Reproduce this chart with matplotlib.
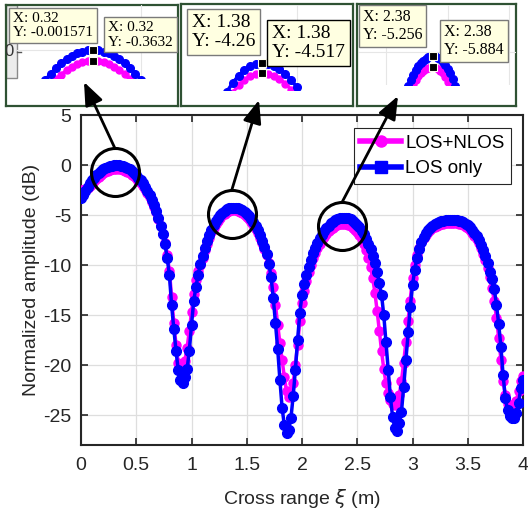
import numpy as np
import matplotlib
matplotlib.use('Agg')
import matplotlib.pyplot as plt
from matplotlib.lines import Line2D
from matplotlib.patches import FancyArrowPatch, Rectangle

X_STEP = 0.02
LABELS = ['LOS+NLOS', 'LOS only']

los_only = [
    -3.3, -3.01, -2.58, -2.19, -1.84, -1.53, -1.25, -1.00, -0.79, -0.60,
    -0.44, -0.30, -0.19, -0.11, -0.05, -0.01, -0.001571, -0.01, -0.05, -0.11,
    -0.19, -0.30, -0.44, -0.60, -0.79, -1.00, -1.25, -1.53, -1.84, -2.19,
    -2.58, -3.01, -3.49, -4.02, -4.61, -5.28, -6.05, -6.9, -7.9, -9.3,
    -11.0, -14.0, -16.4, -18.6, -20.5, -21.5, -21.8, -21.2, -20.4, -18.6,
    -16.0, -13.6, -12.2, -11.0, -9.94, -9.05, -8.26, -7.59, -6.98, -6.46,
    -6.01, -5.63, -5.29, -5.01, -4.78, -4.59, -4.44, -4.34, -4.28, -4.26,
    -4.28, -4.33, -4.42, -4.54, -4.70, -4.90, -5.13, -5.41, -5.73, -6.10,
    -6.52, -7.01, -7.55, -8.17, -8.9, -9.9, -11.2, -13.3, -15.8, -18.4,
    -21.5, -24.3, -26.0, -26.8, -26.5, -25.3, -23.1, -20.5, -17.5, -14.8,
    -13.0, -11.9, -11.0, -10.2, -9.45, -8.83, -8.27, -7.77, -7.34, -6.95,
    -6.62, -6.32, -6.06, -5.84, -5.66, -5.52, -5.40, -5.32, -5.27, -5.256,
    -5.28, -5.34, -5.43, -5.57, -5.76, -5.98, -6.24, -6.56, -6.94, -7.36,
    -7.85, -8.42, -9.05, -9.80, -10.7, -11.8, -13.0, -15.0, -17.7, -20.5,
    -23.2, -25.2, -26.3, -26.6, -25.8, -24.7, -22.2, -19.5, -16.7, -14.2,
    -12.0, -10.5, -9.3, -8.4, -7.7, -7.2, -6.8, -6.5, -6.25, -6.05,
    -5.9, -5.78, -5.68, -5.6, -5.55, -5.52, -5.5, -5.5, -5.5, -5.5,
    -5.52, -5.56, -5.63, -5.72, -5.85, -6.0, -6.2, -6.45, -6.75, -7.1,
    -7.5, -7.95, -8.5, -9.1, -9.8, -10.7, -11.4, -12.4, -14.0, -15.9,
    -18.2, -21.0, -23.3, -24.5, -25.1, -25.3, -25.3, -24.8, -23.8, -22.3,
    -21.5,
]

los_nlos = [
    -2.5, -2.45, -2.38, -2.25, -2.05, -1.85, -1.6, -1.38, -1.17, -0.98,
    -0.82, -0.68, -0.56, -0.47, -0.41, -0.37, -0.3632, -0.37, -0.41, -0.47,
    -0.55, -0.66, -0.80, -0.95, -1.13, -1.33, -1.56, -1.82, -2.11, -2.44,
    -2.81, -3.22, -3.68, -4.18, -4.74, -5.36, -6.05, -6.85, -7.8, -9.0,
    -10.6, -13.2, -15.8, -18.0, -19.8, -20.6, -20.4, -19.6, -18.3, -16.6,
    -14.7, -12.9, -11.5, -10.6, -9.95, -9.25, -8.5, -7.85, -7.25, -6.72,
    -6.27, -5.89, -5.55, -5.27, -5.04, -4.85, -4.70, -4.60, -4.54, -4.517,
    -4.54, -4.59, -4.68, -4.80, -4.96, -5.16, -5.40, -5.68, -6.00, -6.37,
    -6.78, -7.25, -7.78, -8.37, -9.03, -9.8, -10.8, -12.2, -14.0, -16.0,
    -17.8, -19.5, -21.2, -22.6, -23.2, -23.0, -21.8, -20.0, -18.0, -15.6,
    -13.8, -12.6, -11.6, -10.7, -9.95, -9.3, -8.75, -8.25, -7.85, -7.48,
    -7.16, -6.88, -6.63, -6.42, -6.25, -6.11, -6.0, -5.93, -5.895, -5.884,
    -5.91, -5.98, -6.09, -6.25, -6.47, -6.73, -7.04, -7.42, -7.9, -8.5,
    -9.3, -10.2, -11.3, -12.8, -14.6, -16.6, -18.6, -20.4, -21.8, -22.8,
    -23.5, -23.9, -24.0, -23.8, -23.0, -21.6, -19.8, -17.7, -15.6, -13.6,
    -11.3, -10.0, -9.0, -8.25, -7.7, -7.3, -6.98, -6.72, -6.5, -6.32,
    -6.18, -6.06, -5.97, -5.9, -5.85, -5.82, -5.8, -5.8, -5.8, -5.8,
    -5.82, -5.86, -5.93, -6.03, -6.16, -6.32, -6.52, -6.77, -7.07, -7.42,
    -7.83, -8.3, -8.85, -9.5, -10.25, -11.2, -12.3, -13.6, -15.3, -17.3,
    -19.5, -21.6, -23.0, -23.9, -24.4, -24.5, -24.3, -23.6, -22.6, -21.6,
    -21.1,
]

tip_x = [0.32, 1.38, 2.38]   # data-tip positions shown in the zoom panels

x = np.round(np.arange(len(los_only)) * X_STEP, 2)
blue = np.array(los_only)
mag = np.array(los_nlos)

# --- Figure layout (pixel based, 528x514 at 100 dpi) ---
W, H = 528, 514
plt.rcParams['font.family'] = ['Liberation Sans', 'DejaVu Sans']
plt.rcParams['axes.unicode_minus'] = False
DARK = '#262626'
MAG = '#FF00FF'
BLU = '#0000FF'


def box(x0, y0, x1, y1):
    return [x0 / W, 1 - y1 / H, (x1 - x0) / W, (y1 - y0) / H]


def fpos(px, py):
    return (px / W, 1 - py / H)


fig = plt.figure(figsize=(W / 100, H / 100), dpi=100)
ax = fig.add_axes(box(81, 115, 523, 445))

ax.plot(x, mag, '-o', color=MAG, lw=2.5, ms=6.5, mec=MAG, zorder=3)
ax.plot(x, blue, '-o', color=BLU, lw=2.5, ms=7, mec=BLU, zorder=4)

ax.set_xticks(np.arange(0, 4.01, 0.5))
ax.set_xticklabels(['0', '0.5', '1', '1.5', '2', '2.5', '3', '3.5', '4'])
ax.set_yticks([5, 0, -5, -10, -15, -20, -25])
ax.set_xlim(0, 4)
ax.set_ylim(-28, 5)
ax.grid(True, color='#dedede', lw=0.9)
ax.set_axisbelow(True)
ax.tick_params(direction='in', length=5, width=1.2, top=True, right=True,
               labelsize=14, colors=DARK)
ax.tick_params(axis='x', pad=9)
ax.tick_params(axis='y', pad=7)
for sp in ax.spines.values():
    sp.set_linewidth(1.5)
    sp.set_color(DARK)
ax.set_xlabel(r'Cross range $\xi$ (m)', fontsize=14, color=DARK, labelpad=9)
ax.set_ylabel('Normalized amplitude (dB)', fontsize=14, color=DARK, labelpad=2)

handles = [
    Line2D([], [], color=MAG, lw=4, marker='o', ms=8, mec=MAG),
    Line2D([], [], color=BLU, lw=4, marker='s', ms=8, mec=BLU),
]
leg = ax.legend(handles, LABELS, loc='upper right',
                bbox_to_anchor=((511 - 81) / 442, (445 - 128) / 330),
                borderaxespad=0, fontsize=13.5, fancybox=False,
                framealpha=1, edgecolor=DARK, handlelength=2.2,
                handletextpad=0.2, borderpad=0.35, labelspacing=0.45)
leg.get_frame().set_linewidth(0.8)
leg.set_zorder(7)

# circles round the peaks, and arrows up to the zoom panels
idx = [int(np.argmin(np.abs(x - t))) for t in tip_x]
arrow_tips = [(84, 82), (259, 100), (398, 96)]
R = 24  # circle radius in pixels
for i, tip in zip(idx, arrow_tips):
    cx = x[i] - 0.015
    cy = (blue[i] + mag[i]) / 2 - 0.5
    ax.plot(cx, cy, 'o', ms=2 * R * 0.72, mfc='none', mec='k', mew=2.2,
            zorder=6, clip_on=False)
    px, py = ax.transData.transform((cx, cy))
    start = (px / W, (py + R) / H)
    arr = FancyArrowPatch(start, fpos(*tip), transform=fig.transFigure,
                          arrowstyle='-|>,head_length=1.0,head_width=0.4',
                          mutation_scale=14, lw=2, color='k',
                          shrinkA=0, shrinkB=0, zorder=10)
    fig.add_artist(arr)

# --- zoom panels (screen captures of data tips) ---
frames = [(6, 5, 178, 106), (181, 4, 353, 106), (357, 4, 516, 106)]
inner = [(17, 5, 178, 78), (182, 5, 353, 90), (358, 5, 516, 85)]
xlims = [(0.033, 0.641), (1.106, 1.692), (1.770, 3.055)]
ylims = [(-0.933, 1.5), (-4.97, -2.73), (-6.91, -2.34)]
tip_boxes = [((13, 12), (108, 21)), ((192, 14), (272, 25)), ((363, 9), (444, 24))]
tip_fs = [11, 14, 11.5]

for k in range(3):
    fr = fig.add_axes(box(*frames[k]))
    fr.set_xticks([])
    fr.set_yticks([])
    for sp in fr.spines.values():
        sp.set_color('#2f5233')
        sp.set_linewidth(1.6)
    if k == 0:
        fr.add_patch(Rectangle((0, 28 / 101), 11 / 172, 73 / 101, transform=fr.transAxes,
                               facecolor='#ececec', edgecolor='#8a8a8a', lw=1))
        fr.plot([11 / 172, 15 / 172], [54 / 101, 54 / 101], color='#555555', lw=1,
                transform=fr.transAxes)
        fr.text(8 / 172, 54 / 101, '0', transform=fr.transAxes, ha='right',
                va='center', fontsize=12, color='#333333', clip_on=True)

    ai = fig.add_axes(box(*inner[k]))
    ai.patch.set_alpha(0)
    ai.plot(x, mag, '-o', color=MAG, lw=2.5, ms=5, mec=MAG)
    ai.plot(x, blue, '-o', color=BLU, lw=2.5, ms=5.5, mec=BLU)
    i = idx[k]
    ai.plot([x[i], x[i]], [blue[i], mag[i]], 's', color='k', ms=6,
            mec='#fffff0', mew=0.8, ls='none', zorder=5)
    ai.set_xticks(np.arange(0, 4.01, 0.5))
    ai.set_yticks([5, 0, -5, -10])
    ai.set_xlim(*xlims[k])
    ai.set_ylim(*ylims[k])
    ai.grid(True, color='#e6e6e6', lw=0.8)
    ai.set_axisbelow(True)
    ai.tick_params(length=0, labelbottom=False, labelleft=False)
    for sp in ai.spines.values():
        sp.set_visible(False)

    for (bx, by), val in zip(tip_boxes[k], (blue[i], mag[i])):
        ec = 'k' if k == 1 and val == mag[i] else '#7a7a7a'
        fig.text(*fpos(bx, by), f'X: {x[i]:.4g}\nY: {val:.4g}',
                 family=['Liberation Serif', 'DejaVu Serif'], fontsize=tip_fs[k],
                 ha='left', va='top', linespacing=1.15, zorder=8,
                 bbox=dict(boxstyle='square,pad=0.25', fc='#ffffe1', ec=ec, lw=1))

fig.savefig('out.png', dpi=100)
